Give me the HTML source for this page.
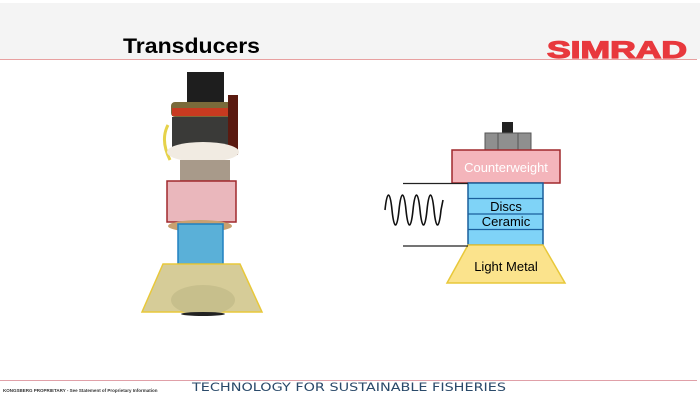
<!DOCTYPE html>
<html><head><style>
body{margin:0;width:700px;height:400px;background:#fff;overflow:hidden;font-family:"Liberation Sans",sans-serif}
</style></head><body>
<svg width="700" height="400" xmlns="http://www.w3.org/2000/svg" style="position:absolute;left:0;top:0">
<rect x="0" y="3" width="700" height="56" fill="#f4f4f4"/>
<line x1="0" y1="59.5" x2="697" y2="59.5" stroke="#e8a0a0" stroke-width="1"/>
<text x="123" y="53" font-size="21" font-weight="bold" fill="#000" font-family="Liberation Sans" textLength="137" lengthAdjust="spacingAndGlyphs">Transducers</text>
<text x="547" y="58" font-size="24" font-weight="900" fill="#e8383d" font-family="Liberation Sans" textLength="140" lengthAdjust="spacingAndGlyphs" stroke="#e8383d" stroke-width="1.2">SIMRAD</text>

<!-- photo approximation -->
<rect x="187" y="72" width="37" height="35" fill="#1e1e1e"/>
<rect x="171" y="102" width="63" height="15" rx="4" fill="#7a6a3a"/>
<rect x="172" y="108" width="60" height="8" fill="#c83a20"/>
<rect x="172" y="117" width="58" height="38" fill="#3a3a38"/>
<path d="M168 125 Q160 140 170 160" stroke="#e6d24a" stroke-width="3" fill="none"/>
<rect x="228" y="95" width="10" height="60" fill="#5a1a10"/>
<ellipse cx="203" cy="152" rx="36" ry="10" fill="#f1ebe2"/>
<rect x="180" y="160" width="50" height="22" fill="#a89a8a"/>
<rect x="167" y="181" width="69" height="41" fill="#eab7bc" stroke="#a0282d" stroke-width="1.5"/>
<ellipse cx="200" cy="226" rx="32" ry="6" fill="#c8a070"/>
<rect x="178" y="224" width="45" height="40" fill="#5ab0d8" stroke="#2080c0" stroke-width="1.5"/>
<polygon points="163,264 240,264 262,312 142,312" fill="#d6cc98" stroke="#e8c83a" stroke-width="1.5"/>
<ellipse cx="203" cy="300" rx="32" ry="15" fill="#c7bf8c"/>
<ellipse cx="203" cy="314" rx="22" ry="2" fill="#222"/>

<!-- diagram -->
<rect x="502" y="122" width="11" height="11" fill="#222"/>
<rect x="485" y="133" width="46" height="17" fill="#8f8f8f" stroke="#555" stroke-width="1"/>
<line x1="498" y1="133" x2="498" y2="150" stroke="#555"/>
<line x1="518" y1="133" x2="518" y2="150" stroke="#555"/>
<rect x="452" y="150" width="108" height="33" fill="#f4b5bb" stroke="#a0282d" stroke-width="1.5"/>
<text x="506" y="172" font-size="13" fill="#fff" text-anchor="middle">Counterweight</text>
<rect x="468" y="183" width="75" height="62" fill="#7fd3f7" stroke="#1a5f9c" stroke-width="1.5"/>
<line x1="468" y1="198.5" x2="543" y2="198.5" stroke="#1a5f9c" stroke-width="1.3"/>
<line x1="468" y1="214" x2="543" y2="214" stroke="#1a5f9c" stroke-width="1.3"/>
<line x1="468" y1="229.5" x2="543" y2="229.5" stroke="#1a5f9c" stroke-width="1.3"/>
<text x="506" y="211" font-size="13" fill="#000" text-anchor="middle">Discs</text>
<text x="506" y="226" font-size="13" fill="#000" text-anchor="middle">Ceramic</text>
<polygon points="468,245 543,245 565,283 447,283" fill="#fbe38c" stroke="#e8c83a" stroke-width="1.5"/>
<text x="506" y="271" font-size="13" fill="#000" text-anchor="middle">Light Metal</text>
<line x1="403" y1="183.5" x2="468" y2="183.5" stroke="#222" stroke-width="1.3"/>
<line x1="403" y1="246" x2="468" y2="246" stroke="#222" stroke-width="1.3"/>
<path d="M385 210 C387 190 390 190 392 210 S397 230 399 210 S404 190 406 210 S411 230 413 210 S418 190 420 210 S425 230 427 210 S432 190 434 210 S439 230 441 210 L443 200" stroke="#111" stroke-width="1.6" fill="none"/>

<!-- footer -->
<line x1="0" y1="380.5" x2="697" y2="380.5" stroke="#e0a0a8" stroke-width="1"/>
<text x="3" y="392" font-size="4.5" font-weight="bold" fill="#333">KONGSBERG PROPRIETARY - See Statement of Proprietary Information</text>
<text x="192" y="391" font-size="11.5" fill="#2a4a6a" font-family="DejaVu Sans" textLength="314" lengthAdjust="spacingAndGlyphs">TECHNOLOGY FOR SUSTAINABLE FISHERIES</text>
</svg>
</body></html>
